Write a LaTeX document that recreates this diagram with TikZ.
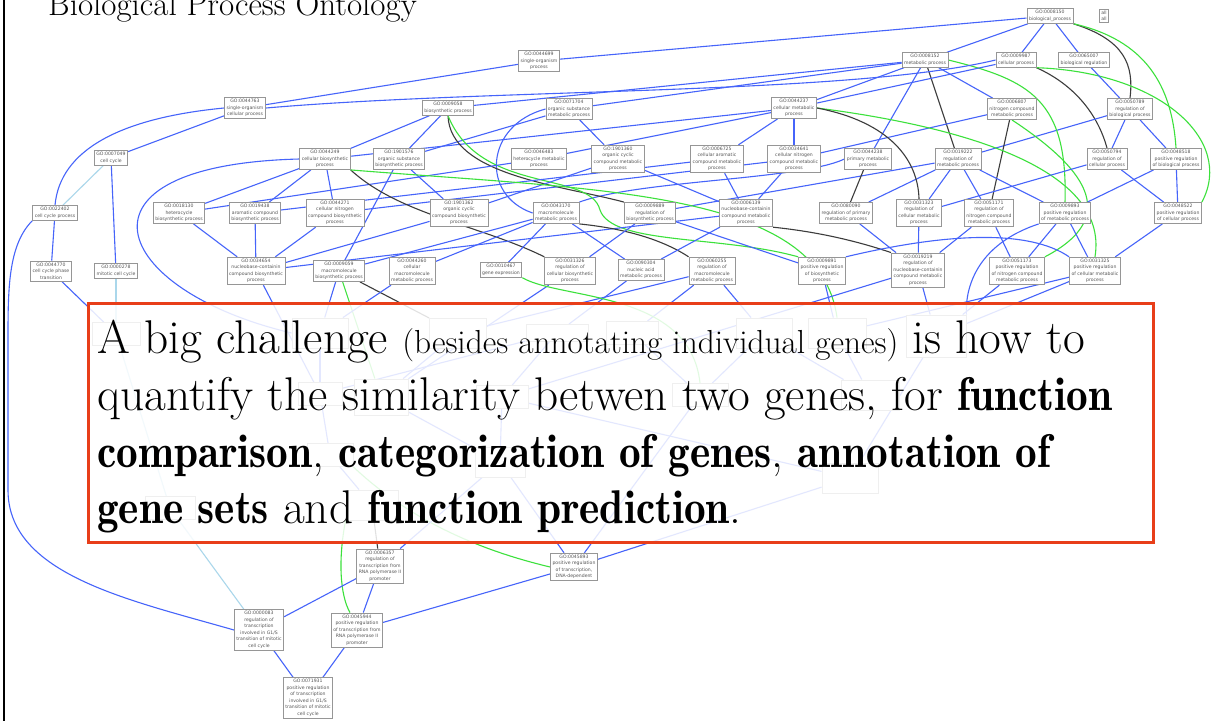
\documentclass[tikz,border=0pt]{standalone}
\usepackage{fontspec}
\newfontfamily\gofont{DejaVu Sans}
\newfontfamily\demifont{lmromandemi10-regular}[Extension=.otf, FakeStretch=0.915]
\definecolor{eblue}{RGB}{70,100,250}
\definecolor{egreen}{RGB}{60,225,60}
\definecolor{eblack}{RGB}{60,60,60}
\definecolor{elight}{RGB}{170,215,235}
\definecolor{boxred}{RGB}{232,62,25}
\definecolor{nodegray}{RGB}{150,150,150}
\definecolor{gotext}{RGB}{85,85,85}
\pgfdeclarelayer{bg}
\pgfdeclarelayer{edges}
\pgfdeclarelayer{top}
\pgfsetlayers{bg,edges,main,top}
\newcommand\bfd[1]{{\demifont #1}}
\tikzset{
 go/.style={draw=nodegray, line width=0.9pt, fill=white, inner xsep=2pt, inner ysep=1.8pt, align=center, text=gotext, font=\gofont\fontsize{4.6}{6.5}\selectfont},
 fgo/.style={draw=nodegray, line width=0.9pt, fill=white, inner sep=0pt},
 be/.style={draw=eblue, line width=1.1pt},
 ge/.style={draw=egreen, line width=1.1pt},
 ke/.style={draw=eblack, line width=1.1pt},
 le/.style={draw=elight, line width=1.1pt},
 mainline/.style={anchor=base west, inner sep=0pt, font=\fontsize{47.3}{57}\selectfont},
}
\begin{document}
\begin{tikzpicture}[x=1pt,y=-1pt]
\useasboundingbox (0,0) rectangle (1215,721);
\clip (0,0) rectangle (1215,721);
\begin{pgfonlayer}{bg}
\fill[white] (0,0) rectangle (1215,721);
\end{pgfonlayer}
\draw[line width=1.5pt] (4,0) -- (4,721);
\node[anchor=base west, inner sep=0pt, font=\fontsize{33}{38}\selectfont] (title) at (48,15) {Biological Process Ontology};

% ---------- visible nodes ----------
\node[go] (n0008150) at (1050,16) {GO:0008150\\biological\_process};
\node[go] (nall) at (1104,16) {all\\all};
\node[go] (n0008152) at (925,60) {GO:0008152\\metabolic process};
\node[go] (n0009987) at (1016,60) {GO:0009987\\cellular process};
\node[go] (n0065007) at (1084,60) {GO:0065007\\biological regulation};
\node[go] (n0044699) at (539,61) {GO:0044699\\single-organism\\process};
\node[go] (n0044763) at (245,108) {GO:0044763\\single-organism\\cellular process};
\node[go] (n0009058) at (448,108) {GO:0009058\\biosynthetic process};
\node[go] (n0071704) at (569,109) {GO:0071704\\organic substance\\metabolic process};
\node[go] (n0044237) at (794,108) {GO:0044237\\cellular metabolic\\process};
\node[go] (n0006807) at (1012,109) {GO:0006807\\nitrogen compound\\metabolic process};
\node[go] (n0050789) at (1130,109) {GO:0050789\\regulation of\\biological process};
\node[go] (n0007049) at (111,158) {GO:0007049\\cell cycle};
\node[go] (n0044249) at (325,159) {GO:0044249\\cellular biosynthetic\\process};
\node[go] (n1901576) at (399,159) {GO:1901576\\organic substance\\biosynthetic process};
\node[go] (n0046483) at (539,159) {GO:0046483\\heterocycle metabolic\\process};
\node[go] (n1901360) at (618,159) {GO:1901360\\organic cyclic\\compound metabolic\\process};
\node[go] (n0006725) at (717,159) {GO:0006725\\cellular aromatic\\compound metabolic\\process};
\node[go] (n0034641) at (794,159) {GO:0034641\\cellular nitrogen\\compound metabolic\\process};
\node[go] (n0044238) at (868,159) {GO:0044238\\primary metabolic\\process};
\node[go] (n0019222) at (958,159) {GO:0019222\\regulation of\\metabolic process};
\node[go] (n0050794) at (1107,159) {GO:0050794\\regulation of\\cellular process};
\node[go] (n0048518) at (1176,159) {GO:0048518\\positive regulation\\of biological process};
\node[go] (n0022402) at (55,213) {GO:0022402\\cell cycle process};
\node[go] (n0018130) at (179,213) {GO:0018130\\heterocycle\\biosynthetic process};
\node[go] (n0019438) at (255,213) {GO:0019438\\aromatic compound\\biosynthetic process};
\node[go] (n0044271) at (335,213) {GO:0044271\\cellular nitrogen\\compound biosynthetic\\process};
\node[go] (n1901362) at (459,213) {GO:1901362\\organic cyclic\\compound biosynthetic\\process};
\node[go] (n0043170) at (556,213) {GO:0043170\\macromolecule\\metabolic process};
\node[go] (n0009889) at (650,213) {GO:0009889\\regulation of\\biosynthetic process};
\node[go] (n0006139) at (746,213) {GO:0006139\\nucleobase-containin\\compound metabolic\\process};
\node[go] (n0080090) at (846,213) {GO:0080090\\regulation of primary\\metabolic process};
\node[go] (n0031323) at (919,213) {GO:0031323\\regulation of\\cellular metabolic\\process};
\node[go] (n0051171) at (989,213) {GO:0051171\\regulation of\\nitrogen compound\\metabolic process};
\node[go] (n0009893) at (1065,213) {GO:0009893\\positive regulation\\of metabolic process};
\node[go] (n0048522) at (1178,213) {GO:0048522\\positive regulation\\of cellular process};
\node[go] (n0044770) at (51,271) {GO:0044770\\cell cycle phase\\transition};
\node[go] (n0000278) at (116,271) {GO:0000278\\mitotic cell cycle};
\node[go] (n0034654) at (256,271) {GO:0034654\\nucleobase-containin\\compound biosynthetic\\process};
\node[go] (n0009059) at (339,271) {GO:0009059\\macromolecule\\biosynthetic process};
\node[go] (n0044260) at (412,271) {GO:0044260\\cellular\\macromolecule\\metabolic process};
\node[go] (n0010467) at (501,270) {GO:0010467\\gene expression};
\node[go] (n0031326) at (570,271) {GO:0031326\\regulation of\\cellular biosynthetic\\process};
\node[go] (n0090304) at (641,270) {GO:0090304\\nucleic acid\\metabolic process};
\node[go] (n0060255) at (712,271) {GO:0060255\\regulation of\\macromolecule\\metabolic process};
\node[go] (n0009891) at (822,271) {GO:0009891\\positive regulation\\of biosynthetic\\process};
\node[go] (n0019219) at (918,270) {GO:0019219\\regulation of\\nucleobase-containin\\compound metabolic\\process};
\node[go] (n0051173) at (1017,271) {GO:0051173\\positive regulation\\of nitrogen compound\\metabolic process};
\node[go] (n0031325) at (1095,271) {GO:0031325\\positive regulation\\of cellular metabolic\\process};
\node[go] (n0006357) at (380,566) {GO:0006357\\regulation of\\transcription from\\RNA polymerase II\\promoter};
\node[go] (n0045893) at (574,567) {GO:0045893\\positive regulation\\of transcription,\\DNA-dependent};
\node[go] (n0000083) at (259,630) {GO:0000083\\regulation of\\transcription\\involved in G1/S\\transition of mitotic\\cell cycle};
\node[go] (n0045944) at (357,630) {GO:0045944\\positive regulation\\of transcription from\\RNA polymerase II\\promoter};
\node[go] (n0071931) at (308,698) {GO:0071931\\positive regulation\\of transcription\\involved in G1/S\\transition of mitotic\\cell cycle};

% ---------- boxes seen faintly behind the text box ----------
\node[fgo, minimum width=48pt, minimum height=23pt] (fA1) at (116,334) {};
\node[fgo, minimum width=56pt, minimum height=30pt] (fA2) at (320,333) {};
\node[fgo, minimum width=57pt, minimum height=30pt] (fA3) at (458,333) {};
\node[fgo, minimum width=62pt, minimum height=17pt] (fA4) at (557,333) {};
\node[fgo, minimum width=52pt, minimum height=23pt] (fA5) at (632,333) {};
\node[fgo, minimum width=56pt, minimum height=30pt] (fA6) at (764,333) {};
\node[fgo, minimum width=58pt, minimum height=30pt] (fA7) at (837,333) {};
\node[fgo, minimum width=60pt, minimum height=42pt] (fA8) at (936,336) {};
\node[fgo, minimum width=44pt, minimum height=23pt] (fB1) at (320,394) {};
\node[fgo, minimum width=54pt, minimum height=36pt] (fB2) at (381,397) {};
\node[fgo, minimum width=52pt, minimum height=23pt] (fB3) at (502,397) {};
\node[fgo, minimum width=56pt, minimum height=23pt] (fB4) at (700,395) {};
\node[fgo, minimum width=58pt, minimum height=30pt] (fB5) at (870,395) {};
\node[fgo, minimum width=46pt, minimum height=23pt] (fC1) at (330,455) {};
\node[fgo, minimum width=50pt, minimum height=30pt] (fC2) at (500,462) {};
\node[fgo, minimum width=56pt, minimum height=30pt] (fC3) at (850,478) {};
\node[fgo, minimum width=50pt, minimum height=23pt] (fD1) at (170,508) {};
\node[fgo, minimum width=52pt, minimum height=30pt] (fD2) at (372,505) {};

\begin{pgfonlayer}{edges}
% top
\draw[be] (n0008150) -- (n0044699);
\draw[be] (n0008150) -- (n0008152);
\draw[be] (n0008150) -- (n0009987);
\draw[be] (n0008150) -- (n0065007);
\draw[ke] (n0008150.south east) .. controls (1125,40) and (1134,65) .. (n0050789.north);
\draw[ge] (n0008150.south east) .. controls (1145,40) and (1172,85) .. (n0048518.north);
\draw[ke] (n0009987.south east) .. controls (1075,85) and (1098,115) .. (n0050794.north);
\draw[ge] (n0009987.south east) .. controls (1160,72) and (1235,140) .. (n0048522.north east);
\draw[be] (n0065007) -- (n0050789);
\draw[be] (n0050789) -- (n0050794);
\draw[be] (n0050789) -- (n0048518);
\draw[be] (n0050789) -- (n0019222);
\draw[be] (n0008152) -- (n0044238);
\draw[ke] (n0008152) -- (n0019222);
\draw[be] (n0008152) -- (n0006807);
\draw[ge] (n0008152.east) .. controls (1030,80) and (1068,100) .. (n0009893.north);
\draw[be] (n0008152) -- (n0044237);
\draw[be] (n0008152) -- (n0071704);
\draw[be] (n0008152) -- (n0009058);
\draw[be] (n0009987) -- (n0044237);
\draw[be] (n0009987.west) .. controls (850,95) and (500,88) .. (n0044763.east);
\draw[be] (n0044699) -- (n0044763);
\draw[be] (n0006807) -- (n0034641);
\draw[ke] (n0006807) -- (n0051171);
\draw[ge] (n0006807.south) .. controls (1080,165) and (1125,215) .. (n0051173.north east);
\draw[ge] (n0044237.east) .. controls (950,125) and (1110,165) .. (n0031325.north);
\draw[be] (n0050794) -- (n0031323);
\draw[be] (n0050794) -- (n0048522);
\draw[be] (n0048518) -- (n0048522);
\draw[be] (n0048518) -- (n0009893);
\draw[be] (n0019222) -- (n0031323);
\draw[be] (n0019222) -- (n0080090);
\draw[be] (n0019222) -- (n0051171);
\draw[be] (n0019222) -- (n0009893);
\draw[be] (n0019222) -- (n0009889);
\draw[ke] (n0044238) -- (n0080090);
\draw[be] (n0044238.west) .. controls (800,180) and (640,180) .. (n0043170.north east);
\draw[ke] (n0044237.east) .. controls (890,122) and (918,160) .. (n0031323.north);
\draw[be] (n0044237) -- (n0006725);
\draw[be] (n0044237) -- (n0034641);
\draw[be] (n0044237) -- (n0046483);
\draw[be] (n0044237) -- (n0044249);
\draw[be] (n0071704) -- (n1901360);
\draw[be] (n0071704) -- (n1901576);
\draw[be] (n0071704.west) .. controls (485,125) and (480,195) .. (n0043170.west);
\draw[be] (n0009058) -- (n1901576);
\draw[be] (n0009058) -- (n0044249);
\draw[ke] (n0009058.south) .. controls (450,175) and (560,185) .. (n0009889.north west);
\draw[ge] (n0009058.south) .. controls (480,195) and (590,170) .. (600,210) .. controls (612,245) and (720,235) .. (n0009891.north west);
\draw[be] (n1901576) -- (n0009059);
\draw[be] (n1901576) -- (n1901362);
\draw[be] (n0046483) -- (n0018130);
\draw[be] (n0006725) -- (n0019438);
\draw[be] (n0006725) -- (n0006139);
\draw[be] (n0034641) -- (n0006139);
\draw[be] (n0034641) -- (n0044271);
\draw[be] (n1901360) -- (n1901362);
\draw[be] (n1901360) -- (n0006139);
\draw[be] (n0044249) -- (n0018130);
\draw[be] (n0044249) -- (n0019438);
\draw[be] (n0044249) -- (n0044271);
\draw[ke] (n0044249.south east) .. controls (400,215) and (480,225) .. (n0031326.north west);
\draw[ge] (n0044249.south east) .. controls (600,190) and (820,190) .. (fA7.north);
\draw[be] (n0044249.west) .. controls (60,165) and (110,290) .. (fA2.west);
\draw[be] (n0018130) -- (n0034654);
\draw[be] (n0019438) -- (n0034654);
\draw[be] (n0044271) -- (n0034654);
\draw[be] (n1901362) -- (n0034654);
\draw[be] (n0006139) -- (n0034654);
\draw[be] (n0043170) -- (n0044260);
\draw[be] (n0043170) -- (n0010467);
\draw[be] (n0043170) -- (n0090304);
\draw[ke] (n0043170.south east) .. controls (620,228) and (660,238) .. (n0060255.north west);
\draw[be] (n0043170) -- (n0009059);
\draw[be] (n0009889) -- (n0031326);
\draw[be] (n0009889) -- (n0009891);
\draw[be] (n0006139) -- (n0090304);
\draw[ke] (n0006139.south east) .. controls (820,232) and (860,242) .. (n0019219.north west);
\draw[be] (n0080090) -- (n0019219);
\draw[be] (n0031323) -- (n0019219);
\draw[be] (n0051171) -- (n0019219);
\draw[be] (n0051171) -- (n0051173);
\draw[be] (n0009893) -- (n0051173);
\draw[be] (n0009893) -- (n0031325);
\draw[be] (n0048522) -- (n0031325);
\draw[be] (n0009891.north east) .. controls (950,232) and (1030,230) .. (n0031325.north west);
\draw[be] (n0009893.south west) .. controls (975,245) and (965,290) .. (fA8.north east);
% left
\draw[be] (n0044763.west) .. controls (120,118) and (60,150) .. (n0022402.north);
\draw[be] (n0044763) -- (n0007049);
\draw[le] (n0007049) -- (n0022402);
\draw[be] (n0007049) -- (n0000278);
\draw[be] (n0022402) -- (n0044770);
\draw[be] (n0022402.south west) .. controls (8,245) and (8,290) .. (8,340) -- (8,490) .. controls (8,575) and (130,600) .. (n0000083.west);
\draw[be] (n0044770) -- (fA1);
\draw[le] (n0000278) -- (fA1);
% into the box
\draw[be] (n0034654) -- (fB1);
\draw[be] (n0009059) -- (fA2);
\draw[ge] (n0009059) -- (fB2);
\draw[ke] (n0009059) -- (fA3);
\draw[be] (n0044260) -- (fA2);
\draw[be] (n0031326) -- (fB2);
\draw[be] (n0090304) -- (fA4);
\draw[be] (n0060255) -- (fA3);
\draw[be] (n0060255) -- (fA5);
\draw[be] (n0060255) -- (fA6);
\draw[ge] (n0010467.south east) .. controls (560,300) and (690,290) .. (fB4.north);
\draw[be] (n0009891) -- (fA7);
\draw[be] (n0019219) -- (fA8);
\draw[be] (n0019219) -- (fB3);
\draw[be] (n0051173) -- (fA8);
\draw[be] (n0031325) -- (fA7);
\draw[be] (n0031325) -- (fA8);
% behind the box
\draw[be] (fA2) -- (fB1);
\draw[be] (fA3) -- (fB2);
\draw[be] (fA4) -- (fB1);
\draw[be] (fA4) -- (fB3);
\draw[be] (fA5) -- (fB4);
\draw[be] (fA6) -- (fB4);
\draw[be] (fA6) -- (fB5);
\draw[be] (fA7) -- (fB5);
\draw[be] (fB1) -- (fC1);
\draw[be] (fB2) -- (fC2);
\draw[be] (fB3) -- (fC2);
\draw[be] (fA8) -- (fC3);
\draw[be] (fB3) -- (fC3);
\draw[le] (fA1) -- (fD1);
\draw[be] (fC1) -- (fD2);
% bottom
\draw[ke] (fD2) -- (n0006357);
\draw[ge] (fD2.south west) .. controls (338,560) and (340,595) .. ([xshift=-7pt]n0045944.north);
\draw[ge] (fC1.south east) .. controls (420,530) and (500,555) .. (n0045893.west);
\draw[be] (fC2) -- (n0045893);
\draw[be] (fC3) -- (n0045893);
\draw[be] (fB4) -- (n0045893);
\draw[be] (fC2) -- (n0006357);
\draw[le] (fD1) -- (n0000083);
\draw[be] (n0006357) -- (n0045944);
\draw[be] (n0006357) -- (n0000083);
\draw[be] (n0045893) -- (n0045944);
\draw[be] (n0000083) -- (n0071931);
\draw[be] (n0045944) -- (n0071931);
\end{pgfonlayer}

\begin{pgfonlayer}{top}
\node[draw=boxred, line width=3pt, fill=white, fill opacity=0.85, draw opacity=1, anchor=north west, inner sep=0pt, minimum width=1065pt, minimum height=239pt] (box) at (87,302) {};
\node[mainline] (t1) at (97,353) {A big challenge {\fontsize{33.3}{40}\selectfont (besides annotating individual genes)} is how to};
\node[mainline] (t2) at (97,410) {quantify the similarity betwen two genes, for \bfd{function}};
\node[mainline] (t3) at (97,467) {\bfd{comparison}, \bfd{categorization of genes}, \bfd{annotation of}};
\node[mainline] (t4) at (97,523) {\bfd{gene sets} and \bfd{function prediction}.};
\end{pgfonlayer}
\end{tikzpicture}
\end{document}
